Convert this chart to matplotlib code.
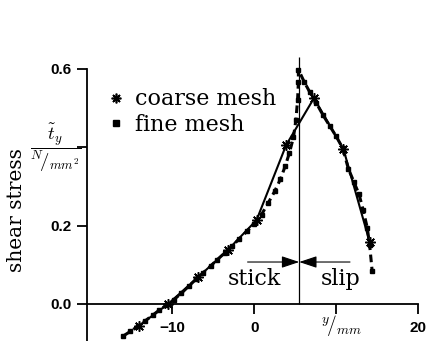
import matplotlib.pyplot as plt
from matplotlib.lines import Line2D

plt.rcParams['mathtext.fontset'] = 'cm'

# coarse mesh (stars, solid line)
coarse_x = [-14.1, -10.5, -6.8, -3.2, 0.3, 3.9, 7.3, 10.9, 14.1]
coarse_y = [-0.056, 0.0, 0.069, 0.138, 0.214, 0.405, 0.525, 0.395, 0.158]

# fine mesh (squares, dashed line)
fine_x = [-16.0, -15.1, -14.2, -13.3, -12.4, -11.6, -10.7, -9.8, -8.9, -8.0,
          -7.1, -6.2, -5.3, -4.5, -3.6, -2.7, -1.8, -0.9, 0.0, 0.9,
          1.7, 2.5, 3.2, 3.8, 4.3, 4.8, 5.1, 5.3, 5.4, 5.4,
          6.1, 6.8, 7.6, 8.4, 9.2, 10.0, 10.8, 11.5, 12.2, 12.8,
          13.3, 13.8, 14.1, 14.4]
fine_y = [-0.082, -0.070, -0.057, -0.043, -0.029, -0.016, -0.003, 0.011, 0.027, 0.045,
          0.063, 0.080, 0.097, 0.113, 0.130, 0.148, 0.166, 0.185, 0.205, 0.228,
          0.257, 0.287, 0.318, 0.352, 0.385, 0.425, 0.470, 0.520, 0.565, 0.598,
          0.567, 0.540, 0.512, 0.482, 0.455, 0.428, 0.398, 0.345, 0.310, 0.280,
          0.240, 0.195, 0.150, 0.085]

stick_slip_x = 5.5
x_ticks = [-10, 0, 10, 20]
x_tick_labels = ['\u221210', '0', '', '20']
x_unit_label = r'$^{y}\!/_{mm}$'
y_ticks = [0.0, 0.2, 0.4, 0.6]
y_tick_labels = ['0.0', '0.2', '', '0.6']
y_unit_label = r'$\dfrac{\tilde{t}_y}{^{N}\!/_{mm^2}}$'

x_min, x_max = -20.4, 20
y_min, y_max = -0.0945, 0.63

fig = plt.figure(figsize=(4.31, 3.41), dpi=100)
ax = fig.add_axes([87 / 431, 0, 331 / 431, 284 / 341])
ax.set_xlim(x_min, x_max)
ax.set_ylim(y_min, y_max)

ax.plot(coarse_x, coarse_y, color='black', lw=1.5, marker=(8, 2, 0),
        ms=7.5, mew=1.1, zorder=3)
ax.plot(fine_x, fine_y, color='black', lw=2.2, ls=(0, (2.5, 1.5)),
        marker='s', ms=3.2, zorder=4)

# stick / slip boundary
ax.vlines(stick_slip_x, 0, y_max, color='black', lw=0.9)
arrow_kw = dict(arrowstyle='-|>,head_length=0.6,head_width=0.2', color='black',
                lw=0.8, mutation_scale=18, shrinkA=0, shrinkB=0)
ax.annotate('', xy=(stick_slip_x, 0.107), xytext=(-0.8, 0.107), arrowprops=arrow_kw)
ax.annotate('', xy=(stick_slip_x, 0.107), xytext=(11.7, 0.107), arrowprops=arrow_kw)
ax.text(0.0, 0.064, 'stick', family='DejaVu Serif', fontsize=16,
        ha='center', va='center')
ax.text(10.5, 0.064, 'slip', family='DejaVu Serif', fontsize=16,
        ha='center', va='center')

# axes
for side in ['top', 'right']:
    ax.spines[side].set_visible(False)
ax.spines['bottom'].set_position(('data', 0))
ax.spines['left'].set_bounds(y_min, 0.6)
for side in ['left', 'bottom']:
    ax.spines[side].set_linewidth(1.3)

ax.set_xticks(x_ticks)
ax.set_xticklabels(x_tick_labels)
ax.set_yticks(y_ticks)
ax.set_yticklabels(y_tick_labels)
ax.tick_params(axis='x', direction='out', length=7, width=1.3, pad=5)
ax.tick_params(axis='y', direction='out', length=7, width=1.3, pad=4)
for lab in ax.get_xticklabels() + ax.get_yticklabels():
    lab.set_family('Liberation Sans')
    lab.set_fontweight('bold')
    lab.set_fontsize(11)
ax.text(10.7, -0.056, x_unit_label, fontsize=14, ha='center', va='center')
ax.annotate(y_unit_label, xy=(0, 0.4), xycoords=('axes fraction', 'data'),
            xytext=(-4, 0), textcoords='offset points', fontsize=13.5,
            ha='right', va='center')

fig.text(17 / 431, 1 - 210 / 341, 'shear stress', family='DejaVu Serif',
         fontsize=14.5, rotation=90, ha='center', va='center')

handles = [Line2D([], [], color='black', ls='none', marker=(8, 2, 0), ms=7, mew=1.2),
           Line2D([], [], color='black', ls='none', marker='s', ms=4)]
ax.legend(handles, ['coarse mesh', 'fine mesh'], loc='upper left',
          bbox_to_anchor=(0.0, 0.96), frameon=False, handlelength=0.8,
          handletextpad=0.45, labelspacing=0.15,
          prop={'family': 'DejaVu Serif', 'size': 16})

fig.savefig('out.png', dpi=100)
